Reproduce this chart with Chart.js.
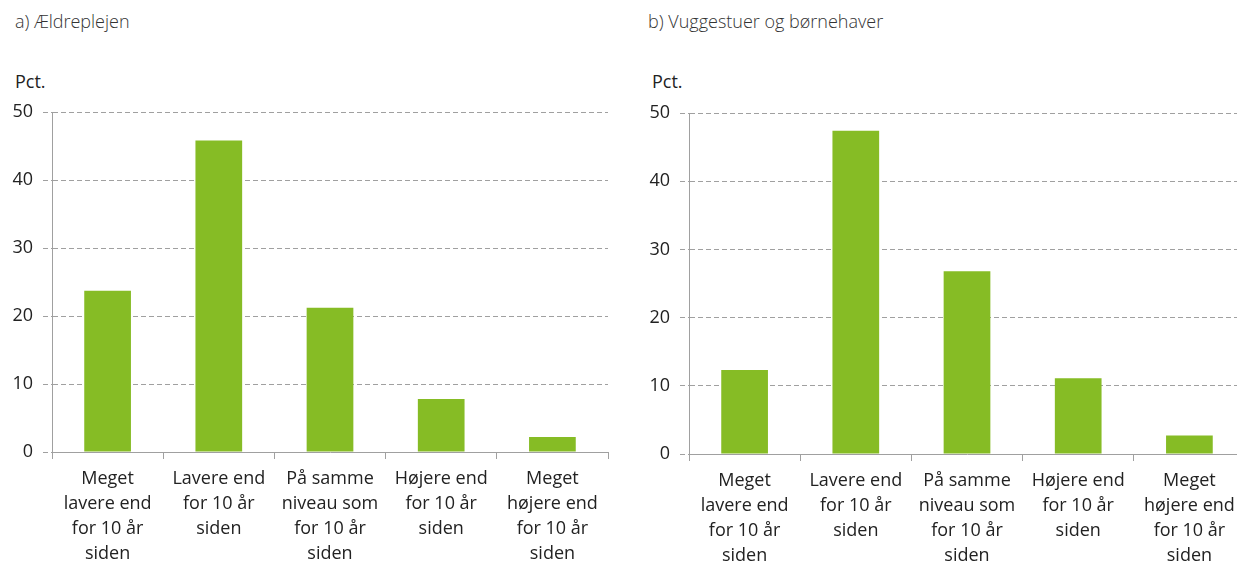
<!DOCTYPE html>
<html>
<head>
<meta charset="utf-8">
<script src="https://cdn.jsdelivr.net/npm/chart.js@4/dist/chart.umd.min.js"></script>
<style>
  html, body { margin: 0; padding: 0; background: #fff; overflow: hidden; width: 1237px; height: 564px; }
  .panel { position: absolute; top: 0; width: 620px; height: 564px; }
  .panel canvas { position: absolute; left: 0; top: 0; }
  .title { position: absolute; top: 9px; font: 300 18px/25px "Open Sans", sans-serif; color: #333; white-space: nowrap; }
  .unit { position: absolute; top: 69px; font: 400 18px/25px "Open Sans", sans-serif; color: #222; }
</style>
</head>
<body>
<div class="panel" style="left:0">
  <div class="title" style="left:15px">a) Ældreplejen</div>
  <div class="unit" style="left:15px">Pct.</div>
  <canvas id="chartA" width="620" height="564"></canvas>
</div>
<div class="panel" style="left:630px">
  <div class="title" style="left:18px">b) Vuggestuer og børnehaver</div>
  <div class="unit" style="left:22px">Pct.</div>
  <canvas id="chartB" width="620" height="564"></canvas>
</div>
<script>
// kategorier (samme for begge paneler)
const categories = [
  ["Meget", "lavere end", "for 10 år", "siden"],
  ["Lavere end", "for 10 år", "siden"],
  ["På samme", "niveau som", "for 10 år", "siden"],
  ["Højere end", "for 10 år", "siden"],
  ["Meget", "højere end", "for 10 år", "siden"],
];
// værdier
const aeldrepleje = [23.7, 45.8, 21.2, 7.8, 2.2];
const dagtilbud = [12.3, 47.4, 26.8, 11.1, 2.7];
const yTicks = [0, 10, 20, 30, 40, 50];

const green = "#86bc25";
const grey = "#a0a0a0";

function makeChart(el, values, axisWidth, top, bottomHeight, right) {
  return new Chart(el, {
    type: "bar",
    data: {
      labels: categories,
      datasets: [{ data: values, backgroundColor: green, borderWidth: 0,
        categoryPercentage: 1, barPercentage: 0.42 }],
    },
    options: {
      responsive: false,
      animation: false,
      layout: { padding: { top: top, left: 0, right: right, bottom: 0 } },
      plugins: { legend: { display: false }, tooltip: { enabled: false } },
      scales: {
        x: {
          grid: { drawOnChartArea: false, drawTicks: true, tickLength: 7, color: grey },
          border: { display: true, color: grey, width: 1 },
          ticks: {
            color: "#222", maxRotation: 0, autoSkip: false, padding: 7,
            font: { family: "Open Sans", size: 18, lineHeight: "25px" },
          },
          afterFit: (s) => { s.height = bottomHeight; },
        },
        y: {
          min: 0, max: 50,
          afterBuildTicks: (s) => { s.ticks = yTicks.map((v) => ({ value: v })); },
          grid: { color: grey, tickLength: 9, tickBorderDash: [5, 3] },
          border: { display: true, color: grey, width: 1, dash: [5, 3] },
          ticks: {
            color: "#222", padding: 10,
            font: { family: "Open Sans", size: 18 },
          },
          afterFit: (s) => { s.width = axisWidth; },
        },
      },
    },
  });
}

makeChart(document.getElementById("chartA"), aeldrepleje, 52, 112, 112, 12);
makeChart(document.getElementById("chartB"), dagtilbud, 59, 113, 110, 5);
</script>
</body>
</html>
